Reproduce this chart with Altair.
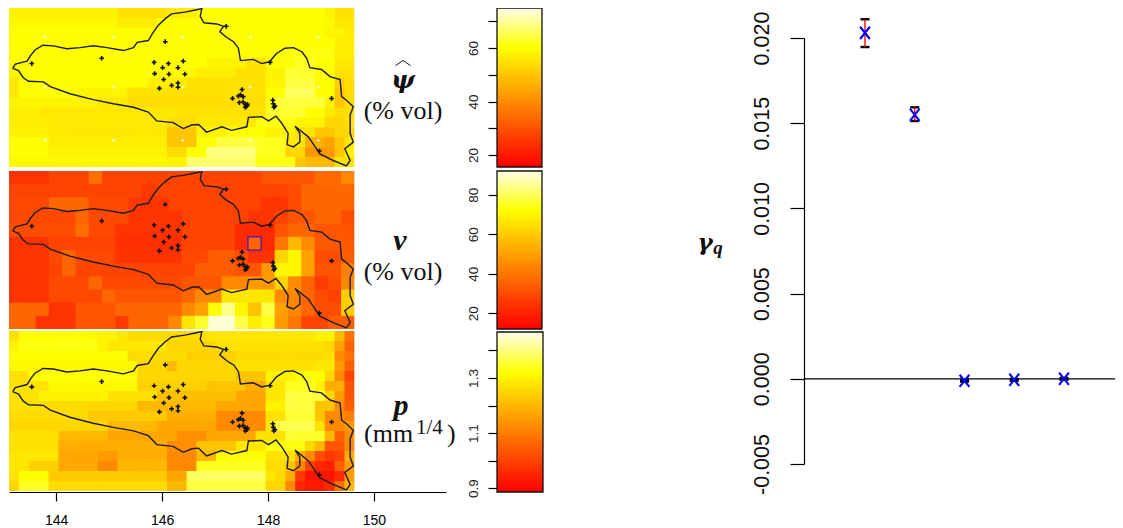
import altair as alt
import numpy as np
import pandas as pd

# ---------- outline and stations (lon, lat) ----------
outline_lon = [143.18,143.23,143.45,143.52,143.60,143.75,143.95,144.20,144.45,144.70,144.96,145.27,145.46,145.53,145.74,145.82,145.93,146.06,146.18,146.43,146.65,146.75,146.72,146.79,147.03,147.16,147.09,147.22,147.35,147.44,147.48,147.72,147.88,148.03,148.16,148.32,148.48,148.64,148.73,148.79,149.01,149.17,149.36,149.39,149.48,149.61,149.55,149.55,149.61,149.45,149.55,149.48,149.23,148.98,148.89,148.76,148.51,148.60,148.60,148.48,148.36,148.38,148.26,148.15,148.01,147.88,147.63,147.60,147.31,147.13,146.84,146.69,146.56,146.40,146.21,145.90,145.74,145.46,145.08,144.70,144.26,143.89,143.76,143.48,143.38,143.29,143.18]
outline_lat = [-34.62,-34.55,-34.50,-34.40,-34.31,-34.23,-34.24,-34.29,-34.27,-34.24,-34.27,-34.32,-34.27,-34.18,-34.15,-34.03,-33.89,-33.78,-33.70,-33.67,-33.63,-33.61,-33.74,-33.85,-33.87,-33.91,-34.00,-34.10,-34.17,-34.28,-34.49,-34.47,-34.54,-34.51,-34.37,-34.28,-34.27,-34.34,-34.45,-34.61,-34.64,-34.76,-34.81,-35.10,-35.16,-35.27,-35.41,-35.72,-35.87,-35.98,-36.18,-36.27,-36.18,-36.07,-35.95,-35.78,-35.60,-35.72,-35.87,-35.95,-35.91,-35.72,-35.55,-35.43,-35.51,-35.44,-35.45,-35.61,-35.67,-35.61,-35.70,-35.57,-35.58,-35.64,-35.54,-35.51,-35.36,-35.28,-35.22,-35.15,-35.05,-34.93,-34.85,-34.84,-34.78,-34.66,-34.62]
station_lon = [143.54,144.86,146.06,147.21,148.04,149.20,148.97,145.85,146.01,146.12,146.40,146.30,145.86,146.13,146.43,146.03,145.95,146.18,146.30,146.30,147.51,147.48,147.44,147.53,147.33,147.46,147.53,147.57,147.60,147.57,147.61,148.09,148.10,148.13,148.11]
station_lat = [-34.54,-34.45,-34.17,-33.91,-34.52,-35.13,-36.02,-34.52,-34.61,-34.54,-34.50,-34.61,-34.71,-34.72,-34.72,-34.81,-34.96,-34.91,-34.87,-34.94,-34.98,-35.07,-35.09,-35.10,-35.13,-35.20,-35.19,-35.23,-35.26,-35.28,-35.23,-35.16,-35.22,-35.26,-35.28]
blank_lon = [143.79,145.08,146.39,147.66,148.95]
blank_lat = [-34.09,-34.94,-35.84]

# ---------- field values ----------
psi_rows = [
[58,58,58,58,58,58,58,58,58,58,58,55,55,55,55,55,57,57,57,60,60,60,60,60,60,60,60,60,60,60,60,60,58,55,55],
[59,59,59,59,59,59,59,59,59,59,59,57,57,57,57,60,60,60,60,60,60,60,60,60,60,60,60,60,60,60,60,60,59,56,56],
[60,60,60,60,60,60,60,60,60,60,60,60,60,60,60,60,60,60,60,60,60,60,60,60,60,60,60,60,60,60,60,60,58,58,57],
[60,60,60,60,60,60,60,60,60,60,60,60,60,60,60,60,60,60,60,60,60,60,60,60,60,60,60,60,60,60,60,60,60,57,57],
[60,60,60,60,60,60,60,60,60,60,60,60,60,60,60,60,60,60,60,60,60,60,60,60,60,60,60,60,60,61,61,61,61,57,57],
[60,60,60,60,60,60,60,60,60,60,60,60,60,60,60,60,60,60,60,60,58,58,58,58,55,55,60,60,60,62,62,60,60,56,56],
[58,60,60,60,60,60,60,60,60,60,60,60,60,60,60,59,59,59,59,57,57,57,57,55,55,55,58,58,63,63,63,60,60,55,55],
[56,60,60,60,60,60,60,60,60,60,60,60,60,60,57,57,57,57,55,55,55,55,55,55,55,55,58,58,64,64,64,60,60,52,54],
[56,60,60,60,60,60,60,58,58,58,58,58,55,55,55,55,55,55,55,55,55,55,55,55,55,55,60,60,66,66,66,60,60,50,54],
[58,58,58,58,58,58,58,58,58,56,56,56,54,54,54,54,54,54,54,54,54,54,54,54,54,54,60,64,64,64,64,64,58,50,54],
[57,57,57,56,56,56,56,56,56,56,56,56,56,56,56,56,56,55,55,55,55,55,55,55,55,55,63,63,63,63,60,60,56,54,54],
[57,57,57,57,56,56,56,56,56,56,56,56,56,56,56,56,54,54,54,56,56,56,56,56,56,61,61,61,61,58,58,58,53,53,55],
[58,58,58,58,56,56,56,56,56,56,56,56,56,56,56,56,50,50,50,58,58,58,60,60,60,60,58,58,58,55,55,50,50,53,53],
[60,60,60,60,57,57,57,57,57,57,57,57,57,57,57,57,50,50,50,60,60,64,64,64,64,62,62,62,56,56,46,46,44,50,56],
[60,60,60,60,58,58,58,58,58,58,58,58,58,58,58,58,54,54,60,60,68,68,68,68,68,62,62,62,53,53,42,42,42,50,58],
[59,59,59,59,59,59,59,59,59,59,59,59,59,59,59,59,58,58,67,67,67,67,67,67,67,61,61,61,61,50,48,48,48,55,55],
]
v_rows = [
[24,24,24,28,28,28,38,28,28,28,28,28,28,28,28,28,28,28,28,32,32,32,32,37,37,44],
[28,28,28,28,28,28,28,28,28,28,25,28,28,28,28,28,28,28,28,28,28,30,36,36,36,36],
[29,29,29,36,36,36,29,29,29,25,24,24,28,28,28,28,28,28,28,24,24,29,36,36,36,36],
[29,29,29,29,29,36,29,29,29,24,24,24,24,28,28,28,28,28,24,24,28,32,32,36,36,30],
[30,30,30,30,30,38,29,29,24,24,24,24,24,28,28,28,28,22,22,22,32,36,36,32,32,32],
[24,24,24,28,28,28,28,28,23,23,23,23,23,28,28,28,28,22,36,22,40,55,45,33,33,33],
[24,24,24,29,36,29,29,29,24,24,24,24,24,29,29,34,34,30,24,24,62,70,50,30,30,34],
[24,24,24,28,36,28,28,28,28,28,28,28,28,28,34,34,34,32,32,48,70,70,50,32,32,42],
[24,24,24,29,29,29,36,29,29,29,29,29,29,32,32,32,44,44,48,48,62,45,36,26,30,44],
[24,24,24,29,29,29,29,36,32,32,32,32,32,36,44,44,66,66,66,66,45,44,36,30,27,60],
[36,36,36,24,24,32,32,32,36,36,36,36,36,44,50,72,84,70,58,78,50,44,36,30,30,60],
[36,36,24,24,24,32,32,32,26,36,36,36,44,66,76,90,90,78,68,74,48,40,28,28,34,34],
]
p_rows = [
[127,132,132,132,132,132,132,132,131,130,130,128,126,126,126,126,126,126,126,126,128,128,128,128,128,128,128,128,128,128,128,130,130,120,108],
[130,133,133,133,133,133,133,133,133,130,128,128,128,128,128,128,125,125,125,125,125,127,127,127,127,127,127,127,127,127,127,127,125,116,105],
[132,132,132,132,132,132,132,132,132,132,132,132,126,126,126,126,126,126,124,124,124,124,124,126,126,126,126,126,126,126,126,126,127,112,108],
[131,131,131,131,131,131,131,131,131,131,131,131,131,125,125,125,120,125,125,125,125,125,125,127,127,127,127,127,127,127,127,128,128,115,105],
[127,127,132,132,132,132,132,132,132,132,132,132,132,125,125,125,125,125,125,125,125,125,125,122,122,122,130,130,130,132,132,132,125,112,100],
[127,127,127,127,131,131,131,131,131,131,131,131,131,124,124,124,124,124,124,124,122,122,122,122,118,118,128,128,134,134,134,130,118,118,103],
[127,127,127,130,130,130,130,130,130,130,127,127,127,127,127,121,121,121,121,121,121,121,121,117,117,117,128,128,136,136,136,136,125,115,103],
[127,127,127,126,126,126,126,126,125,125,125,125,125,120,120,120,120,120,120,120,120,117,117,117,117,117,130,130,136,136,136,122,122,113,105],
[126,126,126,126,126,126,126,126,123,123,123,123,123,123,123,123,118,118,118,118,118,112,112,112,112,112,127,127,135,135,135,122,112,112,110],
[125,125,125,125,125,125,125,125,125,125,120,120,120,120,120,117,117,117,117,117,117,112,112,112,112,112,128,137,137,137,137,127,112,112,115],
[127,127,127,127,127,120,120,120,120,120,117,117,117,117,117,117,117,113,113,113,117,117,117,117,117,127,127,127,135,135,135,135,120,105,113],
[127,127,127,127,127,118,118,118,118,118,118,118,118,118,118,118,113,113,113,122,122,122,122,128,128,128,133,133,133,133,125,120,103,103,112],
[128,128,128,128,128,117,117,117,117,115,115,118,118,118,118,118,112,112,112,120,120,132,132,132,132,132,127,127,127,118,112,102,98,100,118],
[128,128,124,124,124,117,117,117,117,112,112,120,120,120,120,120,112,112,112,134,134,134,134,134,134,134,126,126,122,112,100,95,94,105,115],
[127,132,132,132,123,123,123,123,123,123,123,123,123,123,123,123,117,117,138,138,138,138,138,138,138,138,128,126,118,98,92,92,92,96,115],
[125,134,134,134,126,126,126,126,126,126,126,126,126,126,126,126,120,120,136,136,136,136,136,136,136,136,125,125,112,95,93,93,96,108,120],
]

# ---------- colour bars: value range, yellow point, ticks, labels ----------
psi_bar = dict(lo=15.5, mid=60.0, hi=75.0, ticks=[20,30,40,50,60,70], labels=["20","40","60"], fmt="d")
v_bar = dict(lo=12.0, mid=72.0, hi=92.0, ticks=[20,40,60,80], labels=["20","40","60","80"], fmt="d")
p_bar = dict(lo=0.886, mid=1.32, hi=1.467, ticks=[0.9,1.0,1.1,1.2,1.3,1.4], labels=["0.9","1.1","1.3"], fmt=".1f")

# ---------- right panel ----------
index_q = [1,2,3,4,5]
gamma = [0.0203,0.0155,-0.00012,-0.00006,0.0]
gamma_lo = [0.01947,0.01513,-0.00016,-0.00011,-0.00005]
gamma_hi = [0.0211,0.01593,-0.00006,-0.00001,0.00005]
y_ticks = [-0.005,0.0,0.005,0.010,0.015,0.020]

LON0, LON1, LONMAX = 143.11, 149.63, 151.36
LATBOT, LATTOP = -36.29, -33.6
FONT = "Liberation Sans"
SERIF = "Liberation Serif"
PANELS = [(159,0),(321,163),(483,323)]
LONR = [1,438]
CHART_H = 519
CHART_W = 1107

def s(dom, rng):
    return alt.Scale(domain=dom, range=rng, zero=False, nice=False)

def field_frame(rows, scale=1.0):
    nr, nc = len(rows), len(rows[0])
    dx = (LON1-LON0)/nc
    dy = (LATTOP-LATBOT)/nr
    recs = []
    for r,row in enumerate(rows):
        for c,val in enumerate(row):
            recs.append(dict(val=val*scale,
                             lon0=LON0+c*dx, lon1=min(LON1, LON0+(c+1.06)*dx),
                             lat0=LATTOP-r*dy, lat1=max(LATBOT, LATTOP-(r+1.06)*dy)))
    return pd.DataFrame(recs)

def cscale(b):
    return alt.Scale(domain=[b["lo"],b["mid"],b["hi"]], range=["#ff0000","#ffff00","#ffffec"], interpolate="rgb")

outline_df = pd.DataFrame(dict(lon=outline_lon, lat=outline_lat, i=range(len(outline_lon))))
station_df = pd.DataFrame(dict(lon=station_lon, lat=station_lat))
PLUS = "M-1,0L1,0M0,-1L0,1"

def map_layers(rows, scale, bar, yr, axis):
    xs = s([LON0,LONMAX], LONR)
    ys = s([LATBOT,LATTOP], list(yr))
    xax = alt.Axis(values=[144,146,148,150], format="d", title=None, grid=False, orient="bottom",
                   offset=-(CHART_H-484), tickSize=9, tickColor="black", domainColor="black", tickWidth=1.2, domainWidth=1.2,
                   labelFont=FONT, labelFontSize=14, labelColor="black", labelPadding=12, labelOverlap=False, labelBound=False, labelFlush=False) if axis else None
    heat = alt.Chart(field_frame(rows, scale)).mark_rect(strokeWidth=0).encode(
        x=alt.X("lon0:Q", scale=xs, axis=xax), x2="lon1:Q",
        y=alt.Y("lat0:Q", scale=ys, axis=None), y2="lat1:Q",
        color=alt.Color("val:Q", scale=cscale(bar), legend=None))
    line = alt.Chart(outline_df).mark_line(color="#1c1c1c", strokeWidth=1.4).encode(
        x=alt.X("lon:Q", scale=xs, axis=None), y=alt.Y("lat:Q", scale=ys, axis=None), order="i:Q")
    pts = alt.Chart(station_df).mark_point(shape=PLUS, size=22, stroke="#111111", strokeWidth=1.6, filled=False, opacity=1).encode(
        x=alt.X("lon:Q", scale=xs, axis=None), y=alt.Y("lat:Q", scale=ys, axis=None))
    return [heat, line, pts]

def bar_layers(bar, yr, x0, x1):
    ys = s([bar["lo"],bar["hi"]], list(yr))
    nlev = abs(yr[0]-yr[1])
    levels = np.linspace(bar["lo"], bar["hi"], nlev+1)
    step = levels[1]-levels[0]
    df = pd.DataFrame(dict(v=levels[:-1], v2=np.minimum(levels[:-1]+step*1.5, bar["hi"])))
    lab = "[" + ",".join("'%s'" % t for t in bar["labels"]) + "]"
    ax = alt.Axis(values=bar["ticks"], format=bar["fmt"], orient="left", offset=-x0, title=None, grid=False, domain=False,
                  tickSize=9, tickColor="black", tickWidth=1.2, labelAngle=-90, labelAlign="center", labelBaseline="bottom",
                  labelFont=FONT, labelFontSize=13.5, labelColor="#222222", labelPadding=8, labelOverlap=False, labelBound=False, labelFlush=False,
                  labelExpr="indexof(%s, datum.label) >= 0 ? datum.label : ''" % lab)
    ramp = alt.Chart(df).mark_rect(strokeWidth=0).encode(
        x=alt.value(x0), x2=alt.value(x1),
        y=alt.Y("v:Q", scale=ys, axis=ax), y2="v2:Q",
        color=alt.Color("v:Q", scale=cscale(bar), legend=None))
    box_df = pd.DataFrame(dict(v=[bar["lo"]], v2=[bar["hi"]]))
    box = alt.Chart(box_df).mark_rect(fillOpacity=0, stroke="#111111", strokeWidth=1.3).encode(
        x=alt.value(x0), x2=alt.value(x1),
        y=alt.Y("v:Q", scale=ys, axis=None), y2="v2:Q")
    return [ramp, box]

def label(txt, x, y, size=26, font=SERIF, style="normal", weight="normal", align="center"):
    return alt.Chart(pd.DataFrame(dict(t=[txt]))).mark_text(
        font=font, fontSize=size, fontStyle=style, fontWeight=weight, align=align, baseline="middle", color="#111111"
    ).encode(text="t:N", x=alt.value(x-8), y=alt.value(y-8))

layers = []
layers += map_layers(psi_rows, 1.0, psi_bar, PANELS[0], False)
blank_df = pd.DataFrame([dict(lon=a, lat=b) for a in blank_lon for b in blank_lat])
layers.append(alt.Chart(blank_df).mark_point(shape=PLUS, size=10, stroke="#ffffee", strokeWidth=1, filled=False, opacity=1).encode(
    x=alt.X("lon:Q", scale=s([LON0,LONMAX],LONR), axis=None),
    y=alt.Y("lat:Q", scale=s([LATBOT,LATTOP],list(PANELS[0])), axis=None)))
layers += map_layers(v_rows, 1.0, v_bar, PANELS[1], False)
layers += map_layers(p_rows, 0.01, p_bar, PANELS[2], True)

# highlighted cell on the v map
cell_df = pd.DataFrame(dict(a=[147.62], b=[147.87], c=[-34.72], d=[-34.95]))
layers.append(alt.Chart(cell_df).mark_rect(fillOpacity=0, stroke="#6a1b9a", strokeWidth=1.5).encode(
    x=alt.X("a:Q", scale=s([LON0,LONMAX],LONR), axis=None), x2="b:Q",
    y=alt.Y("c:Q", scale=s([LATBOT,LATTOP],list(PANELS[1])), axis=None), y2="d:Q"))

layers += bar_layers(psi_bar, (159,0), 489, 534)
layers += bar_layers(v_bar, (321,163), 489, 534)
layers += bar_layers(p_bar, (484,324), 489, 535)

# hat over psi
hat_df = pd.DataFrame(dict(t=["hat"]))
layers.append(alt.Chart(hat_df).mark_point(shape="M-1,0.35L0,-0.35L1,0.35", size=225, stroke="#111111", strokeWidth=1, filled=False, opacity=1).encode(
    x=alt.value(395), y=alt.value(55)))

# text labels
layers += [
    label("\u03c8", 403, 80, 25, font="DejaVu Serif", style="italic", weight="bold"),
    label("(% vol)", 403, 111),
    label("v", 400, 241, 30, style="italic", weight="bold"),
    label("(% vol)", 403, 272),
    label("p", 401, 406, 30, style="italic", weight="bold"),
    label("(mm", 364, 434, align="left"),
    label("1/4", 416, 428, 21, align="left"),
    label(")", 447, 434, align="left"),
    label("\u03b3", 705, 243, 23, font="DejaVu Serif", style="italic", weight="bold"),
    label("q", 718, 248, 19, style="italic", weight="bold"),
]

# right panel
rx = s([-0.226,6.186],[796,1115])
ry = s([-0.005,0.020],[456,30])
r_df = pd.DataFrame(dict(q=index_q, g=gamma, lo=gamma_lo, hi=gamma_hi))
yax = alt.Axis(values=y_ticks, orient="left", offset=-796, title=None, grid=False, tickSize=14, tickColor="black", domainColor="black",
               tickWidth=1.2, domainWidth=1.2, labelAngle=-90, labelAlign="center", labelBaseline="bottom",
               labelFont=FONT, labelFontSize=21.5, labelColor="#111111", labelPadding=17, labelOverlap=False, labelBound=False, labelFlush=False,
               labelExpr="datum.value < 0 ? '-0.005' : format(datum.value, '.3f')")
zero_df = pd.DataFrame(dict(y0=[0.0]))
layers.append(alt.Chart(zero_df).mark_rule(color="black", strokeWidth=1.2).encode(
    y=alt.Y("y0:Q", scale=ry, axis=yax), x=alt.value(796), x2=alt.value(1115)))
for col in ("lo","hi"):
    layers.append(alt.Chart(r_df).mark_tick(orient="horizontal", size=9, thickness=2.4, color="black", opacity=1).encode(
        x=alt.X("q:Q", scale=rx, axis=None), y=alt.Y(col+":Q", scale=ry, axis=None)))
layers.append(alt.Chart(r_df).mark_rule(color="#ff0000", strokeWidth=1.4).encode(
    x=alt.X("q:Q", scale=rx, axis=None), y=alt.Y("lo:Q", scale=ry, axis=None), y2="hi:Q"))
layers.append(alt.Chart(r_df).mark_point(shape="M-0.8,-1L0.8,1M-0.8,1L0.8,-1", size=150, stroke="#0000ff", strokeWidth=2.1, filled=False, opacity=1).encode(
    x=alt.X("q:Q", scale=rx, axis=None), y=alt.Y("g:Q", scale=ry, axis=None)))

chart = alt.layer(*layers).resolve_scale(x="independent", y="independent", color="independent").resolve_axis(x="independent", y="independent").properties(
    width=CHART_W, height=CHART_H, padding=0, autosize=alt.AutoSizeParams(type="none")
).configure_view(stroke=None)

chart.save("out.html", embed_options={"renderer": "svg", "actions": False})
